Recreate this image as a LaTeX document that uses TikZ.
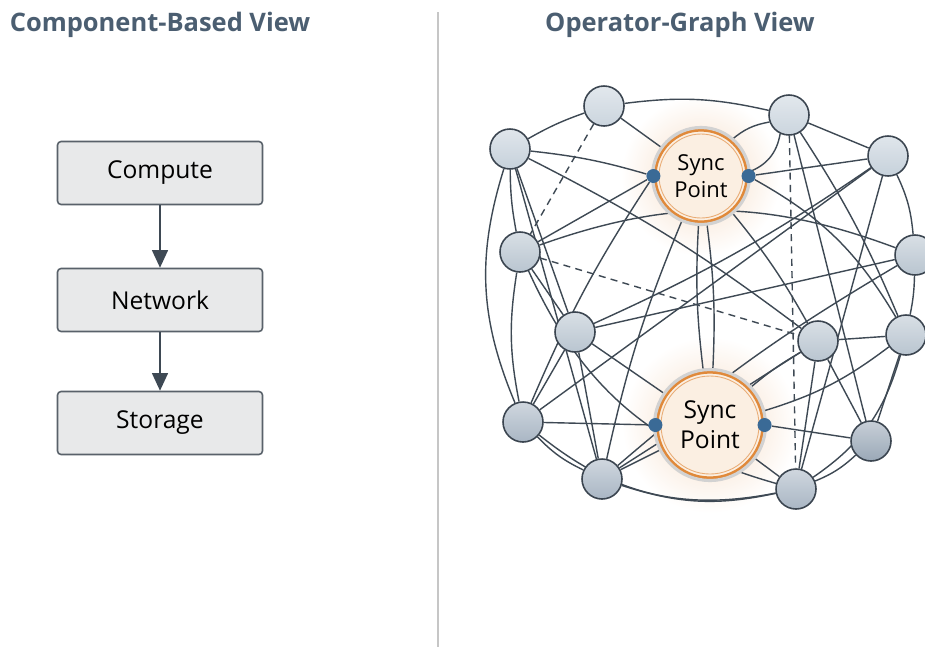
\documentclass[tikz,border=0pt]{standalone}
\usepackage{fontspec}
\setmainfont{Open Sans}
\usetikzlibrary{arrows.meta,positioning,backgrounds}
\definecolor{titlecol}{HTML}{4B5E71}
\definecolor{boxfill}{HTML}{E8E9EA}
\definecolor{boxline}{HTML}{59616A}
\definecolor{edgecol}{HTML}{3E4954}
\definecolor{nodeline}{HTML}{3B4550}
\definecolor{syncfill}{HTML}{FBEFE2}
\definecolor{syncring}{HTML}{E0893A}
\definecolor{dotcol}{HTML}{3A6A96}
\definecolor{opA}{HTML}{CBD5DE}
\definecolor{opB}{HTML}{C6D1DB}
\definecolor{opC}{HTML}{B9C5D0}
\definecolor{opD}{HTML}{A9B6C4}
\definecolor{opE}{HTML}{9AA8B7}
\tikzset{
  title/.style={font=\fontsize{14.5}{18}\selectfont\bfseries, text=titlecol},
  comp/.style={draw=boxline, fill=boxfill, rounded corners=2pt, line width=0.9pt,
    minimum width=4.1cm, minimum height=1.26cm, font=\fontsize{14}{17}\selectfont},
  flow/.style={draw=edgecol, line width=1pt, -{Triangle[length=10pt,width=9pt]}},
  op/.style={circle, draw=nodeline, line width=0.9pt, minimum size=0.8cm,
    top color=#1!55!white, bottom color=#1},
  op/.default=opC,
  sync/.style={circle, fill=syncfill, draw=syncring, line width=1.8pt,
    align=center, inner sep=0pt},
  port/.style={circle, fill=dotcol, minimum size=0.28cm, inner sep=0pt},
  link/.style={draw=edgecol, line width=0.8pt},
  weak/.style={link, dash pattern=on 4pt off 3pt}
}
\begin{document}
\begin{tikzpicture}[x=0.02cm, y=-0.02cm]
\useasboundingbox (0,0) rectangle (925,647);

% headings and divider
\node[title] (lefttitle) at (160,25) {Component-Based View};
\node[title] (righttitle) at (680,25) {Operator-Graph View};
\draw[gray!45, line width=0.8pt] (438,12) -- (438,647);

% component stack
\node[comp] (compute) at (160,173) {Compute};
\node[comp] (network) at (160,300) {Network};
\node[comp] (storage) at (160,423) {Storage};
\draw[flow] (compute) -- (network);
\draw[flow] (network) -- (storage);

% operators
\node[op=opA] (a) at (604,106) {};
\node[op=opA] (b) at (789,115) {};
\node[op=opB] (c) at (510,149) {};
\node[op=opB] (d) at (888,156) {};
\node[op] (e) at (520,252) {};
\node[op] (f) at (915,255) {};
\node[op] (g) at (575,332) {};
\node[op] (h) at (818,341) {};
\node[op] (i) at (906,335) {};
\node[op=opD] (j) at (523,422) {};
\node[op=opE] (k) at (871,441) {};
\node[op=opD] (l) at (602,479) {};
\node[op=opD] (m) at (796,489) {};
\node[sync, minimum size=1.84cm, font=\fontsize{12.5}{15}\selectfont] (sa) at (701,176) {Sync\\Point};
\node[sync, minimum size=2.12cm, font=\fontsize{14}{17}\selectfont] (sb) at (710,425) {Sync\\Point};
\draw[gray!35, line width=1.8pt] (sa) circle (48.5);
\draw[gray!35, line width=1.8pt] (sb) circle (55.5);
\draw[syncring!70, line width=0.5pt] (sa) circle (42);
\draw[syncring!70, line width=0.5pt] (sb) circle (49);
\node[port] (sal) at (sa.west) {};
\node[port] (sar) at (sa.east) {};
\node[port] (sbl) at (sb.west) {};
\node[port] (sbr) at (sb.east) {};

% connections, behind the operators
\begin{scope}[on background layer]
\fill[white] (0,0) rectangle (925,647);
\shade[inner color=syncring!30, outer color=white] (sa) circle (80);
\shade[inner color=syncring!30, outer color=white] (sb) circle (88);
\draw[link] (a) to[bend left=10] (b);
\draw[link] (a) to[bend right=5] (c);
\draw[link] (a) -- (sa);
\draw[link] (b) to[bend right=15] (sa);
\draw[link] (b) to[bend left=30] (sa);
\draw[link] (b) -- (d);
\draw[link] (b) to[bend left=5] (i);
\draw[link] (b) -- (k);
\draw[link] (c) to[bend left=5] (sal);
\draw[link] (c) to[bend right=5] (e);
\draw[link] (c) to[bend right=20] (j);
\draw[link] (c) -- (g);
\draw[link] (c) to[bend left=5] (h);
\draw[link] (c) -- (l);
\draw[link] (sal) -- (e);
\draw[link] (sal) to[bend right=5] (j);
\draw[link] (sa) to[bend left=5] (sb);
\draw[link] (sa) to[bend right=5] (sb);
\draw[link] (sa) to[bend right=5] (l);
\draw[link] (sa) to[bend left=5] (h);
\draw[link] (sar) -- (d);
\draw[link] (sar) to[bend left=15] (i);
\draw[link] (d) to[bend left=5] (g);
\draw[link] (d) -- (j);
\draw[link] (d) to[bend left=10] (f);
\draw[link] (d) -- (m);
\draw[link] (e) to[bend left=20] (f);
\draw[link] (e) -- (g);
\draw[link] (e) to[bend right=10] (j);
\draw[link] (e) to[bend right=25] (m);
\draw[link] (f) -- (g);
\draw[link] (f) to[bend left=5] (i);
\draw[link] (f) to[bend right=5] (l);
\draw[link] (g) -- (sb);
\draw[link] (g) -- (l);
\draw[link] (g) -- (j);
\draw[link] (h) -- (i);
\draw[link] (h) -- (k);
\draw[link] (h) -- (m);
\draw[link] (h) to[bend right=5] (sb);
\draw[link] (h) -- (l);
\draw[link] (i) -- (k);
\draw[link] (i) to[bend left=20] (m);
\draw[link] (i) to[bend left=10] (sb);
\draw[link] (j) -- (sbl);
\draw[link] (j) to[bend right=10] (l);
\draw[link] (j) to[bend right=25] (m);
\draw[link] (l) -- (sb);
\draw[link] (l) to[bend right=15] (m);
\draw[link] (m) -- (sb);
\draw[link] (m) to[bend right=10] (k);
\draw[link] (k) -- (sbr);
\draw[weak] (a) -- (e);
\draw[weak] (b) -- (m);
\draw[weak] (e) -- (h);
\end{scope}
\end{tikzpicture}
\end{document}
